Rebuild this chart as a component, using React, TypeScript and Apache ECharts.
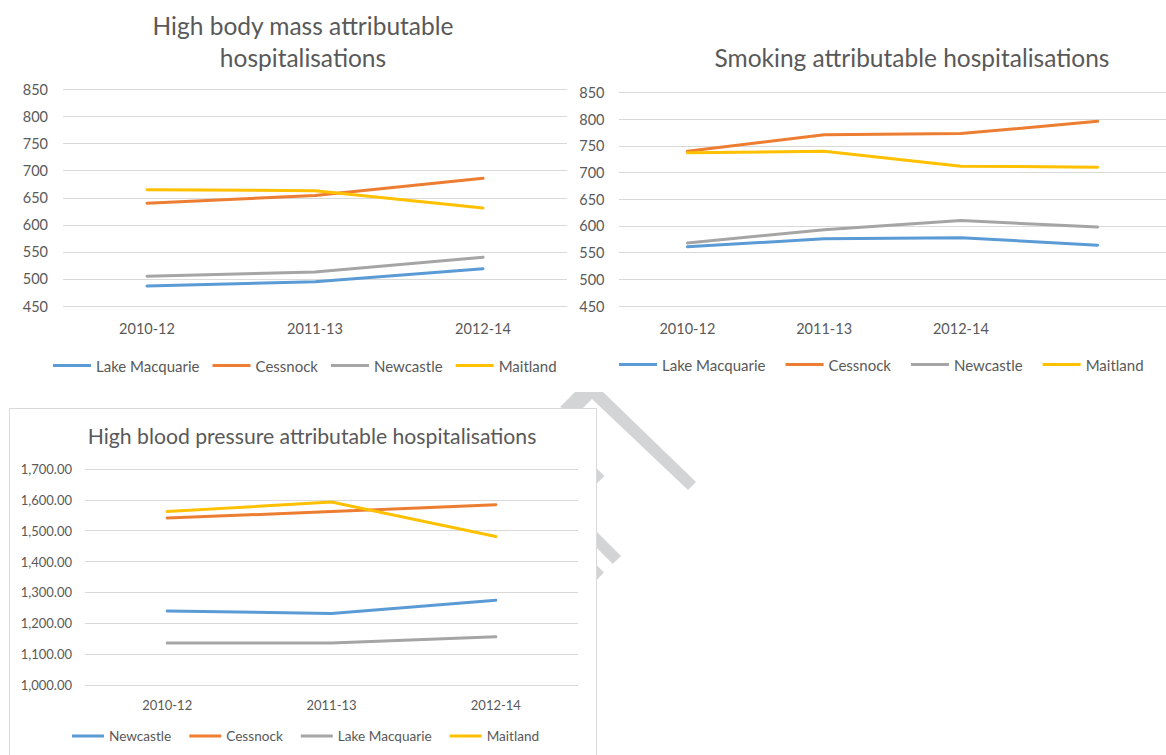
import { useEffect, useRef } from 'react';
import * as echarts from 'echarts';

// Categories (three-year periods)
const periods = ['2010-12', '2011-13', '2012-14'];
const smokingPeriods = ['2010-12', '2011-13', '2012-14', ''];

// High body mass attributable hospitalisations
const bodyMassNames = ['Lake Macquarie', 'Cessnock', 'Newcastle', 'Maitland'];
const bodyMassLakeMacquarie = [487, 495, 519];
const bodyMassCessnock = [640, 654, 686];
const bodyMassNewcastle = [505, 513, 540];
const bodyMassMaitland = [665, 663, 631];

// Smoking attributable hospitalisations
const smokingNames = ['Lake Macquarie', 'Cessnock', 'Newcastle', 'Maitland'];
const smokingLakeMacquarie = [561, 576, 578, 564];
const smokingCessnock = [740, 771, 773, 796];
const smokingNewcastle = [568, 593, 610, 598];
const smokingMaitland = [737, 740, 712, 710];

// High blood pressure attributable hospitalisations
const bloodPressureNames = ['Newcastle', 'Cessnock', 'Lake Macquarie', 'Maitland'];
const bloodPressureNewcastle = [1240, 1232, 1275];
const bloodPressureCessnock = [1541, 1562, 1584];
const bloodPressureLakeMacquarie = [1136, 1136, 1156];
const bloodPressureMaitland = [1562, 1593, 1481];

const BLUE = '#5B9BD5';
const ORANGE = '#ED7D31';
const GRAY = '#A5A5A5';
const YELLOW = '#FFC000';
const PALETTE = [BLUE, ORANGE, GRAY, YELLOW];
const TEXT = '#595959';
const GRID_LINE = '#D9D9D9';
const FONT = 'Lato, "Open Sans", sans-serif';

function lineSeries(name: string, data: number[], color: string, idx: number) {
  return {
    type: 'line',
    name,
    data,
    xAxisIndex: idx,
    yAxisIndex: idx,
    symbol: 'none',
    showSymbol: false,
    silent: true,
    z: 5,
    lineStyle: { color, width: 3, cap: 'round', join: 'round' },
    itemStyle: { color },
  };
}

function legend(names: string[], left: number, top: number, itemWidth: number, fontSize: number, itemGap: number) {
  return {
    left,
    top,
    padding: 0,
    orient: 'horizontal',
    icon: 'rect',
    itemWidth,
    itemHeight: 3,
    itemGap,
    selectedMode: false,
    z: 7,
    data: names.map((n, i) => ({ name: n, itemStyle: { color: PALETTE[i], borderWidth: 0 } })),
    textStyle: { color: TEXT, fontFamily: FONT, fontSize },
  };
}

function xAxis(gridIndex: number, data: string[], fontSize: number, margin: number) {
  return {
    type: 'category',
    gridIndex,
    data,
    boundaryGap: true,
    z: 3,
    axisLine: { show: false },
    axisTick: { show: false },
    splitLine: { show: false },
    axisLabel: { color: TEXT, fontFamily: FONT, fontSize, margin },
  };
}

function yAxis(gridIndex: number, min: number, max: number, interval: number, fontSize: number, margin: number, formatter?: (v: number) => string) {
  return {
    type: 'value',
    gridIndex,
    min,
    max,
    interval,
    z: 3,
    axisLine: { show: false },
    axisTick: { show: false },
    splitLine: { show: true, lineStyle: { color: GRID_LINE, width: 1 } },
    axisLabel: { color: TEXT, fontFamily: FONT, fontSize, margin, formatter },
  };
}

const twoDecimals = (v: number) =>
  v.toLocaleString('en-US', { minimumFractionDigits: 2, maximumFractionDigits: 2 });

function title(text: string, left: number, top: number, fontSize: number, lineHeight: number) {
  return {
    text,
    left,
    top,
    textAlign: 'center',
    padding: 0,
    z: 7,
    textStyle: { fontFamily: FONT, fontSize, fontWeight: 'normal', color: TEXT, lineHeight },
  };
}

export default function App() {
  const ref = useRef<HTMLDivElement>(null);

  useEffect(() => {
    if (!ref.current) return;
    const chart = echarts.init(ref.current, undefined, { renderer: 'svg' });

    const watermarkStyle = { fill: '#D3D4D6' };

    chart.setOption({
      animation: false,
      backgroundColor: '#ffffff',
      title: [
        title('High body mass attributable\nhospitalisations', 303, 9, 24.5, 32),
        title('Smoking attributable hospitalisations', 912, 41, 24.5, 32),
        title('High blood pressure attributable hospitalisations', 312, 422, 21.2, 28),
      ],
      legend: [
        legend(bodyMassNames, 53, 358, 38, 15, 13),
        legend(smokingNames, 619, 357, 38, 15, 20),
        legend(bloodPressureNames, 72, 729, 32, 13.6, 18),
      ],
      grid: [
        { left: 63, top: 89.5, width: 504, height: 216.5 },
        { left: 619, top: 92.5, width: 556, height: 213.5 },
        { left: 85, top: 469, width: 493, height: 216 },
      ],
      xAxis: [
        xAxis(0, periods, 14.5, 15),
        xAxis(1, smokingPeriods, 14.5, 15),
        xAxis(2, periods, 13, 13),
      ],
      yAxis: [
        yAxis(0, 450, 850, 50, 14.5, 15),
        yAxis(1, 450, 850, 50, 14.5, 14.5),
        yAxis(2, 1000, 1700, 100, 13, 13, twoDecimals),
      ],
      graphic: [
        // background watermark strokes
        {
          type: 'polygon',
          z: 0,
          silent: true,
          shape: { points: [[560, 407], [575, 392], [603, 392], [696, 482], [688, 490], [592, 399], [577, 414]] },
          style: watermarkStyle,
        },
        {
          type: 'polygon',
          z: 0,
          silent: true,
          shape: { points: [[588, 460], [604.5, 476], [588, 492]] },
          style: watermarkStyle,
        },
        {
          type: 'polygon',
          z: 0,
          silent: true,
          shape: { points: [[588, 523], [621, 556], [612.7, 564], [588, 539]] },
          style: watermarkStyle,
        },
        {
          type: 'polygon',
          z: 0,
          silent: true,
          shape: { points: [[588, 556], [604, 572.5], [588, 589]] },
          style: watermarkStyle,
        },
        // framed panel for the blood pressure chart
        {
          type: 'rect',
          z: 1,
          silent: true,
          shape: { x: 9.5, y: 408.5, width: 587, height: 400 },
          style: { fill: '#ffffff', stroke: GRID_LINE, lineWidth: 1 },
        },
      ],
      series: [
        lineSeries('Lake Macquarie', bodyMassLakeMacquarie, BLUE, 0),
        lineSeries('Cessnock', bodyMassCessnock, ORANGE, 0),
        lineSeries('Newcastle', bodyMassNewcastle, GRAY, 0),
        lineSeries('Maitland', bodyMassMaitland, YELLOW, 0),

        lineSeries('Lake Macquarie', smokingLakeMacquarie, BLUE, 1),
        lineSeries('Cessnock', smokingCessnock, ORANGE, 1),
        lineSeries('Newcastle', smokingNewcastle, GRAY, 1),
        lineSeries('Maitland', smokingMaitland, YELLOW, 1),

        lineSeries('Newcastle', bloodPressureNewcastle, BLUE, 2),
        lineSeries('Cessnock', bloodPressureCessnock, ORANGE, 2),
        lineSeries('Lake Macquarie', bloodPressureLakeMacquarie, GRAY, 2),
        lineSeries('Maitland', bloodPressureMaitland, YELLOW, 2),
      ],
    });

    return () => chart.dispose();
  }, []);

  return (
    <div
      ref={ref}
      style={{ position: 'absolute', left: 0, top: 0, width: 1166, height: 755, background: '#ffffff' }}
    />
  );
}
